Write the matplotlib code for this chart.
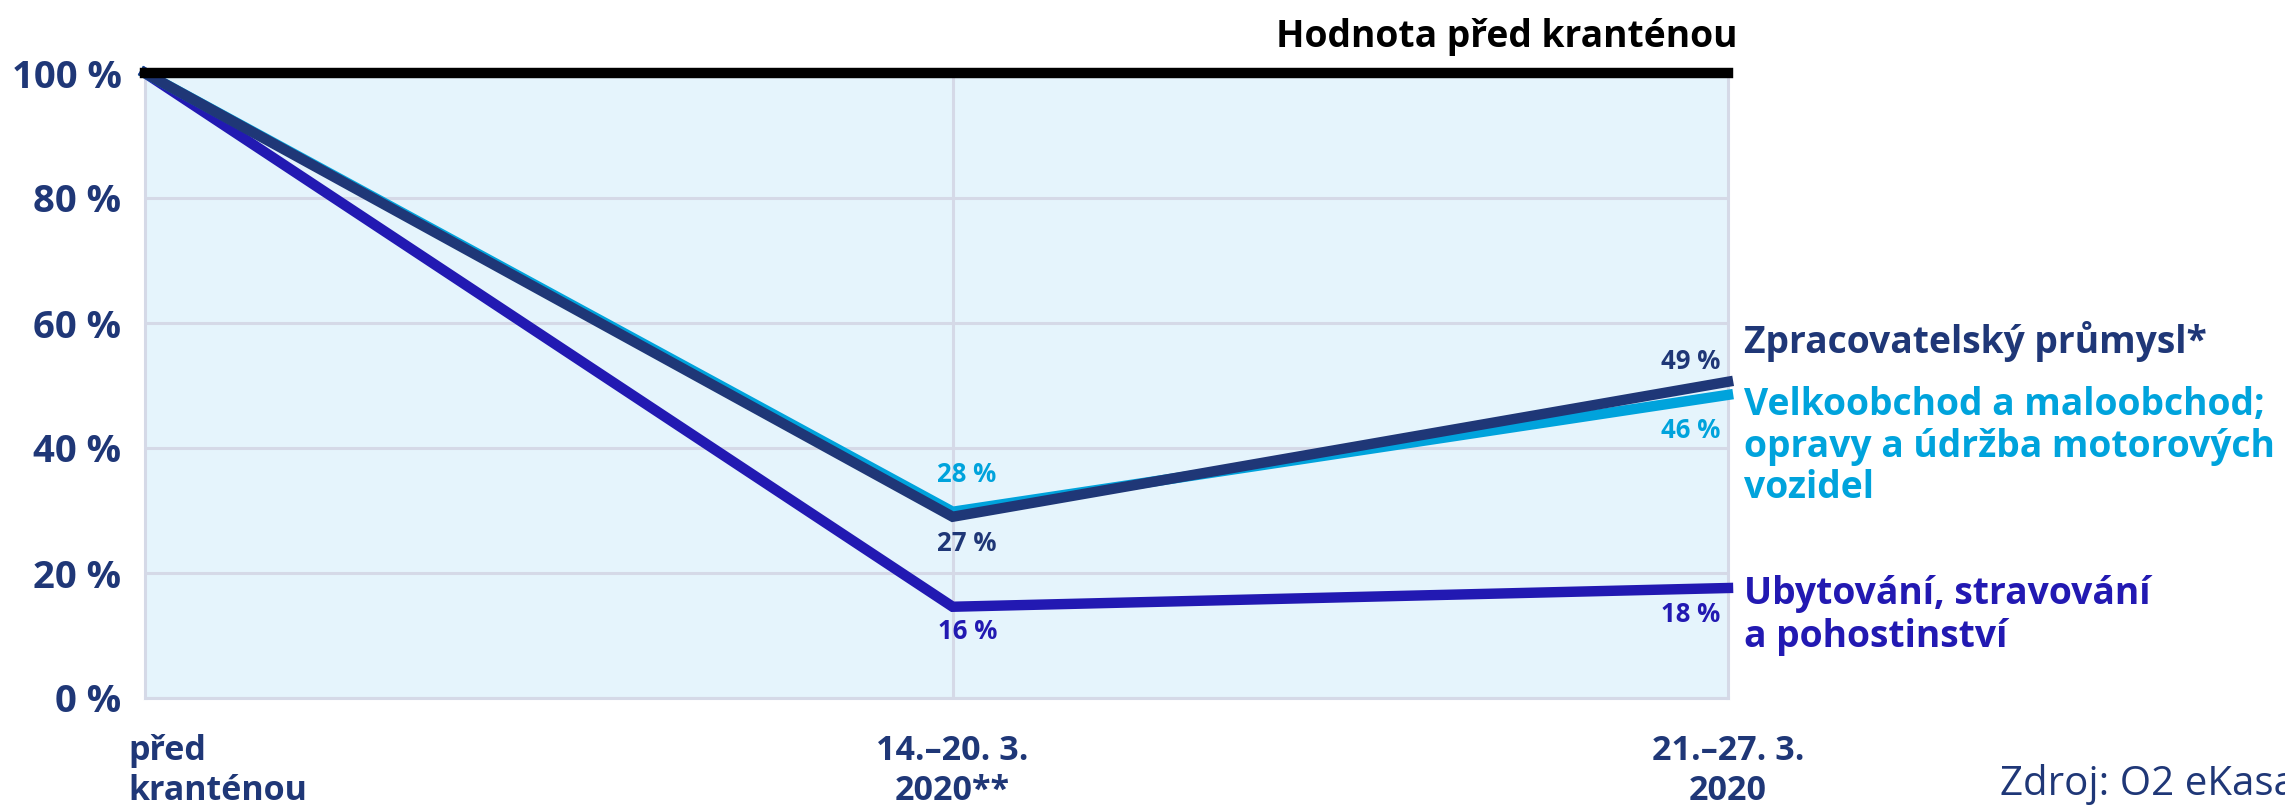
import matplotlib
matplotlib.use('Agg')
import matplotlib.pyplot as plt

# data
categories = ['před\nkranténou', '14.–20. 3.\n2020**', '21.–27. 3.\n2020']
x_pos = [0, 1, 1.96]
y_ticks = [0, 20, 40, 60, 80, 100]
y_tick_labels = ['0 %', '20 %', '40 %', '60 %', '80 %', '100 %']

zpracovatelsky = [100, 29.0, 50.6]
velkoobchod = [100, 29.8, 48.5]
ubytovani = [100, 14.6, 17.6]

zpracovatelsky_labels = ['27 %', '49 %']
velkoobchod_labels = ['28 %', '46 %']
ubytovani_labels = ['16 %', '18 %']

zpracovatelsky_name = 'Zpracovatelský průmysl*'
velkoobchod_name = 'Velkoobchod a maloobchod;\nopravy a údržba motorových\nvozidel'
ubytovani_name = 'Ubytování, stravování\na pohostinství'
baseline_label = 'Hodnota před kranténou'
source_label = 'Zdroj: O2 eKasa'

# styles
plt.rcParams['font.family'] = ['Open Sans', 'DejaVu Sans']
NAVY = '#1f3777'
CYAN = '#00a3dc'
INDIGO = '#2219b2'
GRID = '#d5d9e7'
BG = '#e5f4fc'

W, H = 2285, 810
fig = plt.figure(figsize=(W / 100, H / 100), dpi=100)


def fx(px):
    return px / W


def fy(py):
    return 1 - py / H


ax = fig.add_axes([fx(145), fy(698), fx(1728) - fx(145), fy(73) - fy(698)])
ax.set_facecolor(BG)
ax.set_xlim(x_pos[0], x_pos[-1])
ax.set_ylim(0, 100)

# grid and frame
ax.set_yticks(y_ticks)
ax.set_yticklabels(y_tick_labels, fontsize=27.5, fontweight='bold', color=NAVY)
ax.tick_params(axis='y', length=0, pad=17)
ax.set_xticks([])
ax.yaxis.grid(True, color=GRID, linewidth=2.2)
ax.axvline(x_pos[1], color=GRID, linewidth=2.2, zorder=1)
ax.set_axisbelow(True)
for side in ['left', 'bottom', 'right']:
    ax.spines[side].set_color(GRID)
    ax.spines[side].set_linewidth(2.2)
ax.spines['top'].set_visible(False)

# series
lw = 7.5
ax.plot(x_pos, ubytovani, color=INDIGO, linewidth=lw, solid_joinstyle='miter', zorder=3, clip_on=False)
ax.plot(x_pos, velkoobchod, color=CYAN, linewidth=lw, solid_joinstyle='miter', zorder=3, clip_on=False)
ax.plot(x_pos, zpracovatelsky, color=NAVY, linewidth=lw, solid_joinstyle='miter', zorder=4, clip_on=False)

# reference line at 100 %
ax.axhline(100, color='black', linewidth=7.5, zorder=6, clip_on=False)

# value labels
lab_kw = dict(textcoords='offset pixels', fontsize=18.5, fontweight='bold', va='center')
ax.annotate(velkoobchod_labels[0], (x_pos[1], velkoobchod[1]), xytext=(14, 37), color=CYAN, ha='center', **lab_kw)
ax.annotate(zpracovatelsky_labels[0], (x_pos[1], zpracovatelsky[1]), xytext=(14, -27), color=NAVY, ha='center', **lab_kw)
ax.annotate(ubytovani_labels[0], (x_pos[1], ubytovani[1]), xytext=(15, -25), color=INDIGO, ha='center', **lab_kw)
ax.annotate(zpracovatelsky_labels[1], (x_pos[2], zpracovatelsky[2]), xytext=(-8, 20), color=NAVY, ha='right', **lab_kw)
ax.annotate(velkoobchod_labels[1], (x_pos[2], velkoobchod[2]), xytext=(-8, -36), color=CYAN, ha='right', **lab_kw)
ax.annotate(ubytovani_labels[1], (x_pos[2], ubytovani[2]), xytext=(-8, -26), color=INDIGO, ha='right', **lab_kw)

# x category labels
for i, (x, label) in enumerate(zip(x_pos, categories)):
    ha = 'left' if i == 0 else 'center'
    dx = -17 if i == 0 else 0
    ax.annotate(label, (x, 0), xycoords=('data', 'axes fraction'), xytext=(dx, -36),
                textcoords='offset pixels', ha=ha, va='top', fontsize=24.5,
                fontweight='bold', color=NAVY, linespacing=1.25, annotation_clip=False)

# series names on the right (baseline of the last line)
name_kw = dict(fontsize=26.8, fontweight='bold', va='baseline', ha='left')
fig.text(fx(1744), fy(353), zpracovatelsky_name, color=NAVY, **name_kw)
fig.text(fx(1744), fy(498), velkoobchod_name, color=CYAN, linespacing=1.12, **name_kw)
fig.text(fx(1744), fy(647), ubytovani_name, color=INDIGO, linespacing=1.17, **name_kw)

# headline and source
fig.text(fx(1738), fy(47), baseline_label, color='black', fontsize=26.8, fontweight='bold',
         ha='right', va='baseline')
fig.text(fx(2000), fy(795), source_label, color=NAVY, fontsize=29, ha='left', va='baseline')

fig.savefig('out.png', dpi=100)
